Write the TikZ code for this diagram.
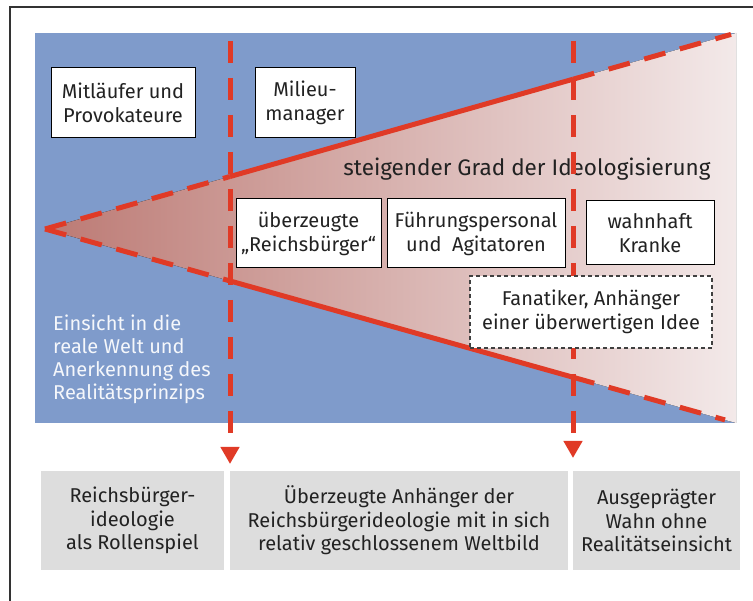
\documentclass[tikz,border=0pt]{standalone}
\usepackage{fontspec}
\setmainfont{Fira Sans}
\usepackage{xcolor}
\usepackage{tikz}
\usetikzlibrary{arrows.meta, positioning, calc}
\definecolor{myblue}{HTML}{7F9BCB}
\definecolor{myred}{HTML}{E03A26}
\definecolor{mygray}{HTML}{DDDDDD}
\definecolor{mytext}{HTML}{222222}
\definecolor{triL}{HTML}{BC7A74}
\definecolor{triR}{HTML}{F3E9E9}

\begin{document}
\begin{tikzpicture}[x=1pt, y=-1pt,
  box/.style={rectangle, draw=black, line width=1pt, fill=white, align=center, inner sep=0pt, text=mytext, font=\fontsize{20}{24}\selectfont},
  dbox/.style={box, draw=black!75, line width=1.1pt, dash pattern=on 4pt off 3pt},
  result/.style={rectangle, fill=mygray, align=center, inner sep=0pt, minimum height=99pt, text=mytext, font=\fontsize{20}{23.5}\selectfont},
  redline/.style={draw=myred, line width=5pt},
  reddash/.style={redline, dash pattern=on 22pt off 15pt},
  vline/.style={reddash, -{Triangle[width=18pt, length=17pt]}}]
  \useasboundingbox (0,0) rectangle (753,601);
  \draw[black!80, line width=1.2pt] (10,601) -- (10,7) -- (753,7);
  \fill[myblue] (35,33) rectangle (736,423);
  \coordinate (apex) at (45,229);
  \coordinate (tr) at (736,33);
  \coordinate (br) at (736,423);
  \fill[left color=triL, right color=triR] (apex) -- (tr) -- (br) -- cycle;
  \coordinate (up1) at ($(apex)!0.2677!(tr)$);
  \coordinate (up2) at ($(apex)!0.7641!(tr)$);
  \coordinate (upend) at ($(apex)!0.9928!(tr)$);
  \coordinate (lo1) at ($(apex)!0.2677!(br)$);
  \coordinate (lo2) at ($(apex)!0.7641!(br)$);
  \coordinate (loend) at ($(apex)!0.9841!(br)$);
  \coordinate (v1top) at (230,41);
  \coordinate (v1tip) at (230,464);
  \coordinate (v2top) at (573,41);
  \coordinate (v2tip) at (573,458);

  \node[anchor=north west, align=left, inner sep=0pt, text=white!92!myblue, font=\fontsize{20}{23}\selectfont] (insight) at (53,315) {Einsicht in die\\reale Welt und\\Anerkennung des\\Realitätsprinzips};
  \node[text=mytext, font=\fontsize{22.5}{26}\selectfont] (grad) at (527,169) {steigender Grad der Ideologisierung};

  \draw[vline] (v1top) -- (v1tip);
  \draw[vline] (v2top) -- (v2tip);
  \draw[reddash] (apex) -- (up1);
  \draw[redline] (up1) -- (up2);
  \draw[reddash] (up2) -- (upend);
  \draw[reddash] (apex) -- (lo1);
  \draw[redline] (lo1) -- (lo2);
  \draw[reddash] (lo2) -- (loend);

  \node[box, minimum width=144pt, minimum height=70pt] (mitl) at (123,103) {Mitläufer und\\Provokateure};
  \node[box, minimum width=100pt, minimum height=70pt] (milieu) at (305,103) {Milieu-\\manager};
  \node[box, minimum width=145pt, minimum height=69pt] (ueberz) at (308.5,233.5) {überzeugte\\„Reichsbürger“};
  \node[box, minimum width=178pt, minimum height=69pt] (fuehr) at (476,233.5) {Führungspersonal\\und~~Agitatoren};
  \node[box, minimum width=128pt, minimum height=64pt] (wahn) at (650,233) {wahnhaft\\Kranke};
  \node[dbox, minimum width=242pt, minimum height=72pt] (fanat) at (591,312) {Fanatiker, Anhänger\\einer überwertigen Idee};

  \node[result, minimum width=183pt] (rolle) at (132.5,520.5) {Reichsbürger-\\ideologie\\als Rollenspiel};
  \node[result, minimum width=338pt] (weltbild) at (399,520.5) {Überzeugte Anhänger der\\Reichsbürgerideologie mit in sich\\relativ geschlossenem Weltbild};
  \node[result, minimum width=167pt] (realit) at (656.5,520.5) {Ausgeprägter\\Wahn ohne\\Realitätseinsicht};
\end{tikzpicture}
\end{document}
